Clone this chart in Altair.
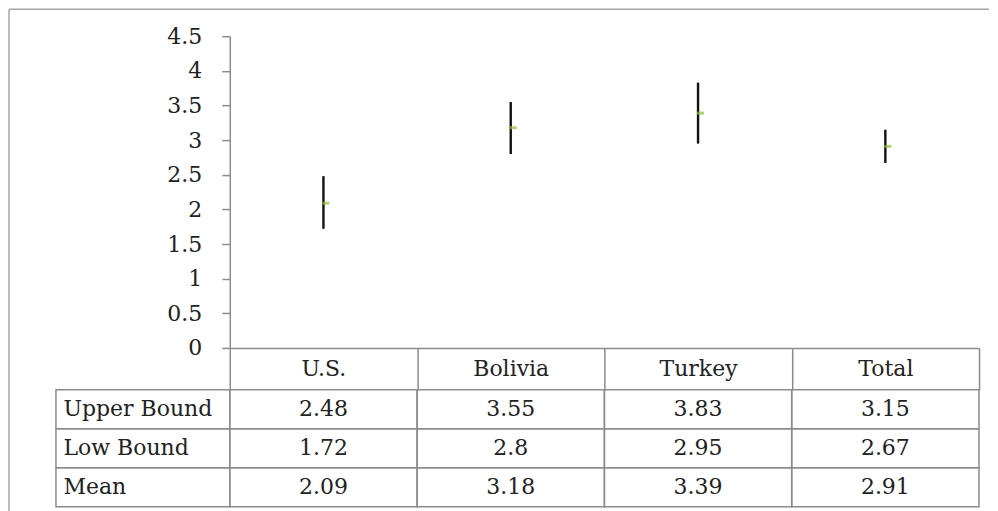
import altair as alt
import pandas as pd

categories = ["U.S.", "Bolivia", "Turkey", "Total"]
upper = [2.48, 3.55, 3.83, 3.15]
low = [1.72, 2.8, 2.95, 2.67]
mean = [2.09, 3.18, 3.39, 2.91]
row_labels = ["Upper Bound", "Low Bound", "Mean"]
y_ticks = [0, 0.5, 1, 1.5, 2, 2.5, 3, 3.5, 4, 4.5]

FONT = "DejaVu Serif"
FS = 22
TXT = "#222222"
GRID = "#8c8c8c"
BORDER = "#a6a6a6"

df = pd.DataFrame({"category": categories, "upper": upper, "low": low, "mean": mean})
rows = []
for name, vals in zip(row_labels, [upper, low, mean]):
    for c, v in zip(categories, vals):
        rows.append({"category": c, "row": name, "label": str(v)})
tdf = pd.DataFrame(rows)
ldf = pd.DataFrame({"row": row_labels})

xs = alt.Scale(domain=categories, paddingInner=0, paddingOuter=0)
ys = alt.Scale(domain=[0, 4.5], nice=False, zero=True)
ys_rows = alt.Scale(domain=row_labels, paddingInner=0, paddingOuter=0)

x_axis = alt.Axis(title=None, labelAngle=0, labelAlign="center", tickBand="extent",
                  tickSize=42, labelPadding=-21, labelBaseline="middle", grid=False)
y_axis = alt.Axis(title=None, values=y_ticks, format="~g", tickSize=8,
                  labelPadding=20, grid=False, labelOverlap=False, tickCount=10)

base = alt.Chart(df)
err = base.mark_rule(color="#111111", strokeWidth=2.4).encode(
    x=alt.X("category:N", scale=xs, axis=x_axis),
    y=alt.Y("low:Q", scale=ys, axis=y_axis),
    y2="upper:Q",
)
meanmark = base.mark_tick(color="#8dbf3f", size=7, thickness=3, xOffset=2.5,
                          orient="horizontal").encode(
    x=alt.X("category:N", scale=xs, axis=x_axis),
    y=alt.Y("mean:Q", scale=ys, axis=y_axis),
)
one = alt.Data(values=[{}])
border_top = alt.Chart(one).mark_rule(color=BORDER, strokeWidth=1.5).encode(
    x=alt.value(-221), x2=alt.value(760), y=alt.value(-27))
border_left = alt.Chart(one).mark_rule(color=BORDER, strokeWidth=1.5).encode(
    x=alt.value(-221), y=alt.value(-27), y2=alt.value(480))

top = alt.layer(err, meanmark, border_top, border_left).properties(width=750, height=312)

cells = alt.Chart(tdf).mark_rect(filled=False, stroke=GRID, strokeWidth=1.5).encode(
    x=alt.X("category:N", scale=xs, axis=None),
    y=alt.Y("row:N", scale=ys_rows,
            axis=alt.Axis(title=None, labelAlign="left", labelPadding=167,
                          ticks=False, tickSize=0, domain=False, grid=False)),
)
texts = alt.Chart(tdf).mark_text(font=FONT, fontSize=FS, color=TXT).encode(
    x=alt.X("category:N", scale=xs),
    y=alt.Y("row:N", scale=ys_rows),
    text="label:N",
)
labelbox = alt.Chart(ldf).mark_rect(filled=False, stroke=GRID, strokeWidth=1.5).encode(
    x=alt.value(-174), x2=alt.value(0),
    y=alt.Y("row:N", scale=ys_rows),
)
bottom = alt.layer(cells, labelbox, texts).properties(width=750, height=117)

chart = alt.vconcat(top, bottom, spacing=42, bounds="flush").properties(
    padding={"left": 0, "top": 0, "right": 0, "bottom": 0}
).configure_view(strokeWidth=0).configure_axis(
    labelFont=FONT, labelFontSize=FS, labelColor=TXT,
    domainColor=GRID, tickColor=GRID, domainWidth=1.5, tickWidth=1.5,
)

chart.save("out.html", embed_options={"renderer": "svg", "actions": False})
